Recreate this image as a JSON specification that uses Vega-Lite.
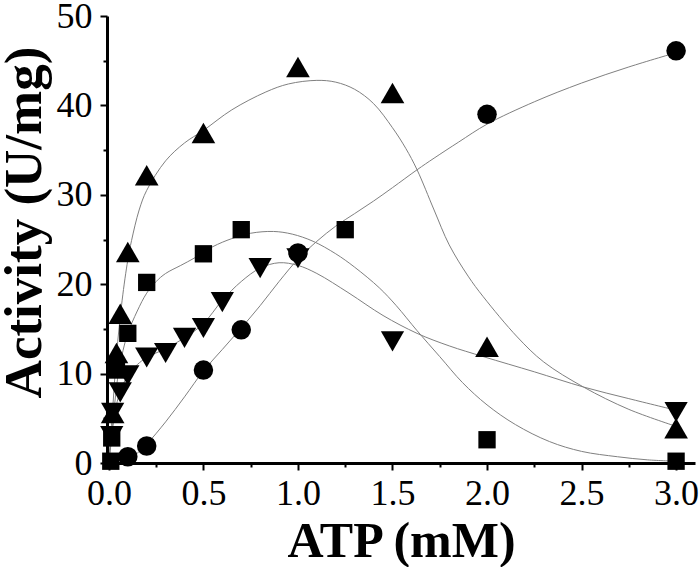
{
  "$schema": "https://vega.github.io/schema/vega-lite/v6.json",
  "width": 588,
  "height": 447,
  "autosize": {"type": "none"},
  "padding": {"left": 107, "top": 16, "right": 5, "bottom": 104},
  "background": "white",
  "config": {
    "view": {"stroke": null},
    "font": "Liberation Serif",
    "axis": {
      "domainColor": "black",
      "domainWidth": 3,
      "tickColor": "black",
      "tickWidth": 2,
      "labelColor": "black",
      "labelFont": "Liberation Serif",
      "labelFontSize": 36,
      "titleColor": "black",
      "titleFont": "Liberation Serif",
      "titleFontWeight": "bold",
      "grid": false
    }
  },
  "datasets": {
    "points": [
      {"x": 0.1, "y": 0.7, "s": "A"},
      {"x": 0.2, "y": 1.9, "s": "A"},
      {"x": 0.5, "y": 10.4, "s": "A"},
      {"x": 0.7, "y": 14.9, "s": "A"},
      {"x": 1.0, "y": 23.5, "s": "A"},
      {"x": 2.0, "y": 39.0, "s": "A"},
      {"x": 3.0, "y": 46.1, "s": "A"},
      {"x": 0.01, "y": 0.2, "s": "B"},
      {"x": 0.015, "y": 2.8, "s": "B"},
      {"x": 0.04, "y": 10.4, "s": "B"},
      {"x": 0.1, "y": 14.5, "s": "B"},
      {"x": 0.2, "y": 20.2, "s": "B"},
      {"x": 0.5, "y": 23.4, "s": "B"},
      {"x": 0.7, "y": 26.1, "s": "B"},
      {"x": 1.25, "y": 26.1, "s": "B"},
      {"x": 2.0, "y": 2.6, "s": "B"},
      {"x": 3.0, "y": 0.2, "s": "B"},
      {"x": 0.02, "y": 5.6, "s": "C"},
      {"x": 0.04, "y": 12.3, "s": "C"},
      {"x": 0.06, "y": 16.7, "s": "C"},
      {"x": 0.1, "y": 23.6, "s": "C"},
      {"x": 0.2, "y": 32.2, "s": "C"},
      {"x": 0.5, "y": 36.9, "s": "C"},
      {"x": 1.0, "y": 44.3, "s": "C"},
      {"x": 1.5, "y": 41.4, "s": "C"},
      {"x": 2.0, "y": 13.0, "s": "C"},
      {"x": 3.0, "y": 3.9, "s": "C"},
      {"x": 0.015, "y": 3.0, "s": "D"},
      {"x": 0.02, "y": 5.6, "s": "D"},
      {"x": 0.06, "y": 7.9, "s": "D"},
      {"x": 0.1, "y": 9.8, "s": "D"},
      {"x": 0.2, "y": 11.8, "s": "D"},
      {"x": 0.3, "y": 12.3, "s": "D"},
      {"x": 0.4, "y": 14.0, "s": "D"},
      {"x": 0.5, "y": 15.1, "s": "D"},
      {"x": 0.6, "y": 18.0, "s": "D"},
      {"x": 0.8, "y": 21.8, "s": "D"},
      {"x": 1.0, "y": 22.9, "s": "D"},
      {"x": 1.5, "y": 13.6, "s": "D"},
      {"x": 3.0, "y": 5.7, "s": "D"}
    ],
    "curves": [
      {"x": 0.1, "y": 0.3, "s": "A"},
      {"x": 0.15, "y": 1.1, "s": "A"},
      {"x": 0.2, "y": 2.1, "s": "A"},
      {"x": 0.3, "y": 4.6, "s": "A"},
      {"x": 0.4, "y": 7.4, "s": "A"},
      {"x": 0.5, "y": 10.3, "s": "A"},
      {"x": 0.6, "y": 12.7, "s": "A"},
      {"x": 0.7, "y": 15.1, "s": "A"},
      {"x": 0.8, "y": 17.6, "s": "A"},
      {"x": 0.9, "y": 20.3, "s": "A"},
      {"x": 1.0, "y": 22.8, "s": "A"},
      {"x": 1.1, "y": 24.8, "s": "A"},
      {"x": 1.2, "y": 26.5, "s": "A"},
      {"x": 1.3, "y": 27.9, "s": "A"},
      {"x": 1.4, "y": 29.3, "s": "A"},
      {"x": 1.5, "y": 30.8, "s": "A"},
      {"x": 1.63, "y": 32.8, "s": "A"},
      {"x": 1.72, "y": 34.1, "s": "A"},
      {"x": 1.85, "y": 35.9, "s": "A"},
      {"x": 2.0, "y": 37.9, "s": "A"},
      {"x": 2.25, "y": 40.4, "s": "A"},
      {"x": 2.5, "y": 42.5, "s": "A"},
      {"x": 2.75, "y": 44.3, "s": "A"},
      {"x": 3.0, "y": 45.9, "s": "A"},
      {"x": 0.0, "y": 0.0, "s": "B"},
      {"x": 0.01, "y": 2.0, "s": "B"},
      {"x": 0.02, "y": 4.2, "s": "B"},
      {"x": 0.035, "y": 7.5, "s": "B"},
      {"x": 0.05, "y": 10.0, "s": "B"},
      {"x": 0.075, "y": 12.6, "s": "B"},
      {"x": 0.1, "y": 14.5, "s": "B"},
      {"x": 0.15, "y": 17.0, "s": "B"},
      {"x": 0.2, "y": 19.0, "s": "B"},
      {"x": 0.25, "y": 20.3, "s": "B"},
      {"x": 0.3, "y": 21.2, "s": "B"},
      {"x": 0.38, "y": 22.1, "s": "B"},
      {"x": 0.45, "y": 22.9, "s": "B"},
      {"x": 0.55, "y": 24.2, "s": "B"},
      {"x": 0.65, "y": 25.1, "s": "B"},
      {"x": 0.75, "y": 25.7, "s": "B"},
      {"x": 0.87, "y": 25.9, "s": "B"},
      {"x": 0.97, "y": 25.6, "s": "B"},
      {"x": 1.08, "y": 24.8, "s": "B"},
      {"x": 1.2, "y": 23.4, "s": "B"},
      {"x": 1.3, "y": 21.9, "s": "B"},
      {"x": 1.43, "y": 19.6, "s": "B"},
      {"x": 1.52, "y": 17.6, "s": "B"},
      {"x": 1.63, "y": 14.8, "s": "B"},
      {"x": 1.75, "y": 11.9, "s": "B"},
      {"x": 1.87, "y": 9.0, "s": "B"},
      {"x": 2.0, "y": 6.5, "s": "B"},
      {"x": 2.15, "y": 4.3, "s": "B"},
      {"x": 2.33, "y": 2.4, "s": "B"},
      {"x": 2.5, "y": 1.3, "s": "B"},
      {"x": 2.69, "y": 0.7, "s": "B"},
      {"x": 2.85, "y": 0.35, "s": "B"},
      {"x": 3.0, "y": 0.2, "s": "B"},
      {"x": 0.0, "y": 0.0, "s": "C"},
      {"x": 0.02, "y": 6.0, "s": "C"},
      {"x": 0.04, "y": 12.0, "s": "C"},
      {"x": 0.07, "y": 18.2, "s": "C"},
      {"x": 0.1, "y": 22.7, "s": "C"},
      {"x": 0.12, "y": 24.9, "s": "C"},
      {"x": 0.16, "y": 28.3, "s": "C"},
      {"x": 0.2, "y": 30.5, "s": "C"},
      {"x": 0.3, "y": 33.8, "s": "C"},
      {"x": 0.4, "y": 35.8, "s": "C"},
      {"x": 0.5, "y": 37.2, "s": "C"},
      {"x": 0.65, "y": 39.5, "s": "C"},
      {"x": 0.83, "y": 41.5, "s": "C"},
      {"x": 0.95, "y": 42.4, "s": "C"},
      {"x": 1.1, "y": 42.8, "s": "C"},
      {"x": 1.2, "y": 42.6, "s": "C"},
      {"x": 1.3, "y": 41.8, "s": "C"},
      {"x": 1.4, "y": 40.2, "s": "C"},
      {"x": 1.5, "y": 37.5, "s": "C"},
      {"x": 1.57, "y": 35.2, "s": "C"},
      {"x": 1.63, "y": 32.8, "s": "C"},
      {"x": 1.72, "y": 28.3, "s": "C"},
      {"x": 1.8, "y": 24.4, "s": "C"},
      {"x": 1.9, "y": 20.9, "s": "C"},
      {"x": 1.98, "y": 18.6, "s": "C"},
      {"x": 2.16, "y": 14.1, "s": "C"},
      {"x": 2.3, "y": 11.3, "s": "C"},
      {"x": 2.51, "y": 8.5, "s": "C"},
      {"x": 2.75, "y": 6.0, "s": "C"},
      {"x": 3.0, "y": 4.1, "s": "C"},
      {"x": 0.0, "y": 0.5, "s": "D"},
      {"x": 0.02, "y": 4.0, "s": "D"},
      {"x": 0.04, "y": 6.5, "s": "D"},
      {"x": 0.06, "y": 8.0, "s": "D"},
      {"x": 0.1, "y": 9.8, "s": "D"},
      {"x": 0.15, "y": 11.0, "s": "D"},
      {"x": 0.2, "y": 11.8, "s": "D"},
      {"x": 0.3, "y": 12.8, "s": "D"},
      {"x": 0.4, "y": 14.0, "s": "D"},
      {"x": 0.5, "y": 15.6, "s": "D"},
      {"x": 0.6, "y": 18.2, "s": "D"},
      {"x": 0.7, "y": 20.3, "s": "D"},
      {"x": 0.8, "y": 21.8, "s": "D"},
      {"x": 0.9, "y": 22.4, "s": "D"},
      {"x": 1.0, "y": 22.1, "s": "D"},
      {"x": 1.1, "y": 21.2, "s": "D"},
      {"x": 1.27, "y": 19.0, "s": "D"},
      {"x": 1.45, "y": 16.5, "s": "D"},
      {"x": 1.63, "y": 14.5, "s": "D"},
      {"x": 1.8, "y": 13.1, "s": "D"},
      {"x": 1.98, "y": 11.9, "s": "D"},
      {"x": 2.25, "y": 10.2, "s": "D"},
      {"x": 2.51, "y": 8.5, "s": "D"},
      {"x": 2.75, "y": 7.2, "s": "D"},
      {"x": 3.0, "y": 5.9, "s": "D"}
    ]
  },
  "layer": [
    {
      "data": {"name": "curves"},
      "mark": {"type": "line", "color": "#808080", "strokeWidth": 1, "interpolate": "catmull-rom"},
      "encoding": {
        "x": {
          "field": "x", "type": "quantitative",
          "scale": {"domain": [-0.01, 3.1], "nice": false, "zero": false},
          "axis": {
            "title": "ATP (mM)",
            "titleFontSize": 50,
            "titlePadding": 5,
            "values": [0, 0.25, 0.5, 0.75, 1, 1.25, 1.5, 1.75, 2, 2.25, 2.5, 2.75, 3],
            "labelExpr": "datum.value % 0.5 === 0 ? format(datum.value, '.1f') : ''",
            "tickSize": {"expr": "datum.value % 0.5 === 0 ? 7 : 4"},
            "labelPadding": 6,
            "labelFlush": false,
            "labelOverlap": false
          }
        },
        "y": {
          "field": "y", "type": "quantitative",
          "scale": {"domain": [0, 50], "nice": false},
          "axis": {
            "title": "Activity (U/mg)",
            "titleFontSize": 53,
            "titleX": -67,
            "titleY": 206,
            "titleAngle": -90,
            "titleAlign": "center",
            "titleBaseline": "alphabetic",
            "values": [0, 5, 10, 15, 20, 25, 30, 35, 40, 45, 50],
            "labelExpr": "datum.value % 10 === 0 ? format(datum.value, 'd') : ''",
            "tickSize": {"expr": "datum.value % 10 === 0 ? 7 : 4"},
            "labelPadding": 8,
            "labelFlush": false,
            "labelOverlap": false
          }
        },
        "detail": {"field": "s"}
      }
    },
    {
      "data": {"name": "points"},
      "mark": {"type": "point", "filled": true, "color": "black", "opacity": 1},
      "encoding": {
        "x": {"field": "x", "type": "quantitative"},
        "y": {"field": "y", "type": "quantitative"},
        "shape": {
          "field": "s", "type": "nominal", "legend": null,
          "scale": {"domain": ["A", "B", "C", "D"], "range": ["circle", "square", "triangle-up", "triangle-down"]}
        },
        "size": {
          "field": "s", "type": "nominal", "legend": null,
          "scale": {"type": "ordinal", "domain": ["A", "B", "C", "D"], "range": [380, 300, 560, 540]}
        }
      }
    }
  ]
}
